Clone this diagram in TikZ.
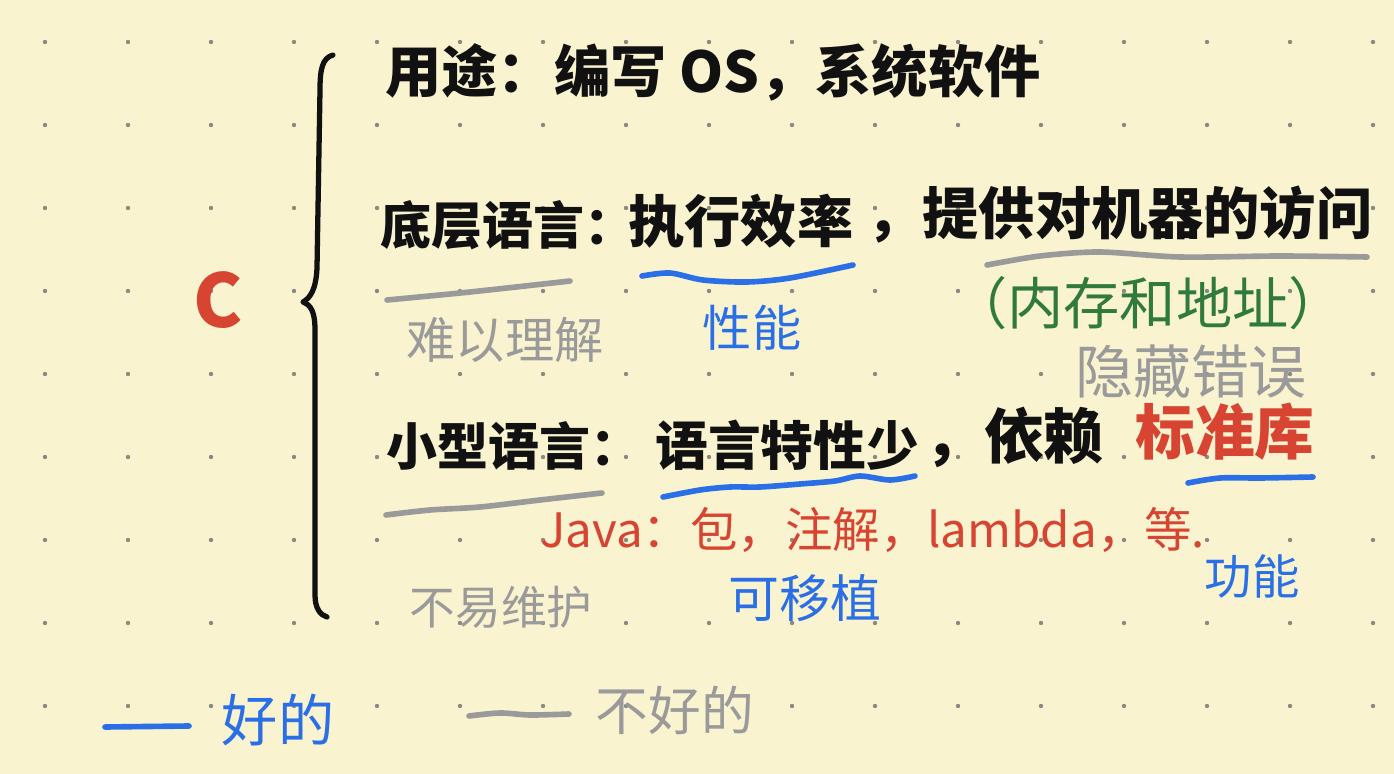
\documentclass[tikz,border=0pt]{standalone}
\usepackage{fontspec}
\setmainfont{Noto Sans CJK SC}

\definecolor{paper}{RGB}{249,243,208}
\definecolor{dotgray}{RGB}{140,138,128}
\definecolor{penblue}{RGB}{43,111,230}
\definecolor{penred}{RGB}{216,68,50}
\definecolor{pengreen}{RGB}{47,122,60}
\definecolor{pengray}{RGB}{154,154,154}
\definecolor{penblack}{RGB}{17,17,17}

\begin{document}
\begin{tikzpicture}[x=0.02cm, y=-0.02cm]
  % Base settings
  \tikzset{
    mytext/.style={inner sep=0pt, text=penblack, font=\fontsize{32}{38}\selectfont\bfseries},
    mynote/.style={inner sep=0pt, font=\fontsize{28}{34}\selectfont},
    myline/.style={line width=3.2pt, line cap=round, line join=round},
    mybrace/.style={myline, penblack, line width=3pt}
  }

  % --- Paper ---
  \fill[paper] (0,0) rectangle (1394,774);
  \useasboundingbox (0,0) rectangle (1394,774);
  \foreach \i in {0,...,16}
    \foreach \j in {0,...,8}
      \fill[dotgray] (45+83*\i, 42+83*\j) circle[radius=2.2];

  % --- Brace ---
  \node[text=penred, inner sep=0pt, font=\fontsize{42}{46}\selectfont\bfseries] (c) at (218,300) {C};
  \draw[mybrace] (333,55) .. controls (322,58) and (320,70) .. (320,90)
    -- (317,268) .. controls (316,290) and (310,298) .. (303,302)
    .. controls (311,305) and (315,312) .. (315,330)
    -- (315,595) .. controls (315,608) and (320,615) .. (327,617);

  % --- Main lines ---
  \node[mytext, anchor=west] (use) at (385,72) {用途：编写 OS，系统软件};

  \node[mytext, anchor=west, font=\fontsize{29}{34}\selectfont\bfseries] (low) at (380,225) {底层语言：};
  \node[mytext, anchor=west] (lowa) at (628,221) {执行效率};
  \node[mytext, anchor=west] (lowb) at (866,215) {，提供对机器的访问};

  \node[mytext, anchor=west, font=\fontsize{29}{34}\selectfont\bfseries] (small) at (386,446) {小型语言：};
  \node[mytext, anchor=west, font=\fontsize{30}{36}\selectfont\bfseries] (smalla) at (655,445) {语言特性少};
  \node[mytext, anchor=west, font=\fontsize{34}{40}\selectfont\bfseries] (smallb) at (924,437) {，依赖};
  \node[mytext, anchor=west, font=\fontsize{34}{40}\selectfont\bfseries, text=penred] (smallc) at (1135,432) {标准库};

  \node[mynote, anchor=west, text=penred, font=\fontsize{27}{32}\selectfont] (java) at (540,530) {Java：包，注解，lambda，等.};

  % --- Notes ---
  \node[mynote, text=pengray] (hard) at (505,340) {难以理解};
  \node[mynote, text=penblue] (perf) at (752,328) {性能};
  \node[mynote, text=pengreen, font=\fontsize{32}{38}\selectfont] (mem) at (1148,303) {（内存和地址）};
  \node[mynote, text=pengray, font=\fontsize{33}{38}\selectfont] (hide) at (1191,372) {隐藏错误};
  \node[mynote, text=pengray, font=\fontsize{26}{30}\selectfont] (maint) at (501,607) {不易维护};
  \node[mynote, text=penblue, font=\fontsize{29}{34}\selectfont] (port) at (805,598) {可移植};
  \node[mynote, text=penblue, font=\fontsize{27}{32}\selectfont] (func) at (1252,576) {功能};

  % --- Underlines ---
  \draw[myline, pengray] plot[smooth] coordinates {(387,300) (470,292) (570,281)};
  \draw[myline, penblue] plot[smooth] coordinates {(642,276) (670,273) (703,280) (747,282) (790,278) (853,265)};
  \draw[myline, pengray] plot[smooth] coordinates {(987,265) (1040,256) (1100,252) (1180,257) (1280,256) (1367,257)};
  \draw[myline, pengray] plot[smooth] coordinates {(386,515) (430,510) (480,507) (540,500) (602,493)};
  \draw[myline, penblue] plot[smooth] coordinates {(663,497) (700,490) (730,487) (760,487) (800,484) (835,481) (860,476) (890,480) (915,476)};
  \draw[myline, penblue] plot[smooth] coordinates {(1188,483) (1220,478) (1260,478) (1313,477)};

  % --- Legend ---
  \draw[myline, penblue] (105,727) -- (189,726);
  \node[mynote, text=penblue, font=\fontsize{32}{38}\selectfont] (good) at (278,720) {好的};
  \draw[myline, pengray] plot[smooth] coordinates {(469,716) (500,713) (530,715) (569,714)};
  \node[mynote, text=pengray, font=\fontsize{30}{36}\selectfont] (bad) at (675,710) {不好的};
\end{tikzpicture}
\end{document}
